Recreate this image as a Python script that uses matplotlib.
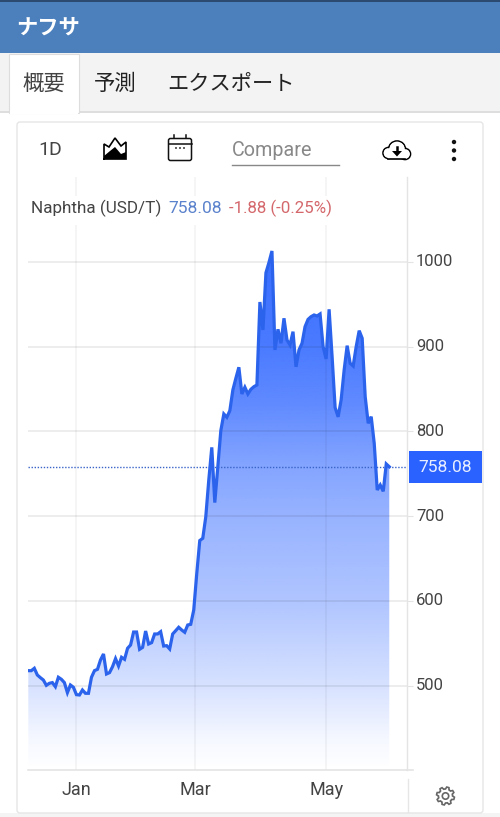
from __future__ import annotations

import matplotlib

matplotlib.use("Agg")
import matplotlib.pyplot as plt
import numpy as np
from matplotlib.colors import to_rgb
from matplotlib.patches import Circle, FancyBboxPatch, Polygon, Rectangle
from matplotlib.transforms import ScaledTranslation

plt.rcParams["font.family"] = ["Roboto", "Noto Sans CJK JP", "DejaVu Sans"]

W, H = 500, 817
JP = ["Noto Sans CJK JP", "DejaVu Sans"]
BLUE = "#2962ff"

PRICES = [
    517.5, 517.5, 520.3, 512.4, 509.3, 506.5, 500.2, 502.6, 503.4, 498.6,
    509.7, 507.3, 503.4, 491.6, 500.6, 497.9, 489.2, 488.8, 494.7, 490.8,
    490.8, 509.7, 517.5, 519.1, 530.1, 537.2, 513.6, 515.2, 522.2, 531.7,
    523.0, 533.3, 530.9, 543.9, 547.8, 563.1, 563.1, 542.7, 545.0, 564.3,
    549.0, 550.6, 560.8, 560.8, 563.5, 546.6, 547.0, 543.1, 560.8, 564.7,
    568.7, 565.5, 562.8, 571.4, 572.2, 589.1, 632.0, 671.0, 673.7, 699.0,
    742.5, 781.0, 715.8, 758.0, 800.7, 820.4, 816.5, 824.3, 848.7, 862.5,
    875.5, 844.0, 851.9, 844.0, 849.5, 852.6, 854.6, 952.5, 919.5, 987.0,
    999.0, 1012.7, 896.0, 920.3, 903.8, 933.3, 907.7, 901.8, 917.5, 876.0,
    896.0, 903.8, 923.4, 932.0, 935.2, 937.2, 936.0, 938.4, 900.0, 885.3,
    943.9, 888.0, 828.0, 817.0, 837.0, 872.3, 901.0, 880.2, 877.0, 899.8,
    918.7, 909.7, 840.8, 809.4, 817.2, 785.8, 730.7, 736.6, 729.1, 761.4,
    758.08,
]
Y_TICKS = [500, 600, 700, 800, 900, 1000]
X_TICK_POS = [16, 55.5, 99]
X_TICK_LABELS = ["Jan", "Mar", "May"]
TABS = ["概要", "予測", "エクスポート"]


def draw_chrome(bg) -> None:
    bg.add_patch(Rectangle((0, 0), W, 3, color="#2c4a70", lw=0))
    bg.add_patch(Rectangle((0, 2), W, 51, color="#4c80bc", lw=0))
    bg.add_patch(Rectangle((0, 53), W, 60, color="#f3f3f3", lw=0))
    bg.add_patch(Rectangle((0, 111), W, 2, color="#dedede", lw=0))
    bg.add_patch(Rectangle((9, 54), 70, 59, facecolor="white", edgecolor="#dddddd", lw=0.8))
    bg.add_patch(Rectangle((9.6, 110), 68.8, 4, color="white", lw=0))
    bg.add_patch(Rectangle((0, 813), W, 4, color="#f4f4f4", lw=0))
    bg.add_patch(FancyBboxPatch((17, 122), 466, 691, boxstyle="round,pad=0,rounding_size=3",
                                facecolor="white", edgecolor="#e6e6e6", lw=1))

    bg.text(16, 27, "ナフサ", color="white", fontsize=15.3, fontweight="bold", family=JP, va="center")
    bg.text(22.5, 84, TABS[0], color="#444444", fontsize=15.4, family=JP, va="center")
    bg.text(93.5, 84, TABS[1], color="#222222", fontsize=15.4, family=JP, va="center")
    bg.text(167.5, 84, TABS[2], color="#222222", fontsize=15.3, family=JP, va="center")


def draw_toolbar(fg) -> None:
    fg.text(38, 149.5, "1D", color="#444444", fontsize=14, va="center")

    # area icon
    fg.plot([104, 104, 109, 115, 121, 126, 126, 104], [159, 144, 147, 138, 146, 142, 159, 159],
            color="black", lw=1.2, solid_joinstyle="miter")
    fg.add_patch(Polygon([(104, 159), (104, 156), (110, 151), (115, 147), (121, 154), (126, 152), (126, 159)],
                         color="black", lw=0))

    # calendar icon
    fg.add_patch(FancyBboxPatch((168.5, 138.5), 23, 22, boxstyle="round,pad=0,rounding_size=2",
                                facecolor="none", edgecolor="#111111", lw=1.1))
    fg.plot([168.5, 191.5], [143.5, 143.5], color="#111111", lw=1.1)
    fg.plot([174, 174], [135, 138], color="#111111", lw=1.1)
    fg.plot([186, 186], [135, 138], color="#111111", lw=1.1)
    for cx in [176, 180, 184]:
        fg.add_patch(Circle((cx, 148), 0.9, color="#111111", lw=0))

    fg.text(232, 150.5, "Compare", color="#888888", fontsize=14.2, va="center")
    fg.plot([232, 339], [165, 165], color="#888888", lw=1)

    # cloud icon
    for cx, cy, r in [(388.5, 153, 5.5), (397, 149.5, 8.5), (405, 154, 5.5)]:
        fg.add_patch(Circle((cx, cy), r, facecolor="none", edgecolor="black", lw=1.2))
    for cx, cy, r in [(388.5, 153, 4.8), (397, 149.5, 7.8), (405, 154, 4.8)]:
        fg.add_patch(Circle((cx, cy), r, color="white", lw=0))
    fg.add_patch(Rectangle((388, 152), 17, 6.6, color="white", lw=0))
    fg.plot([388, 405], [159, 159], color="black", lw=1.2)
    fg.add_patch(Polygon([(392, 151), (402, 151), (397, 156.5)], color="black", lw=0))
    fg.plot([397, 397], [147, 152], color="black", lw=1.8)

    # menu dots
    for cy in [142, 150.5, 159]:
        fg.add_patch(Circle((454, cy), 2.2, color="#111111", lw=0))


def draw_gear(fg, cx: float = 445.5, cy: float = 796) -> None:
    angles = np.deg2rad(np.arange(0, 360, 7.5))
    r = np.array([9.0, 9.0, 9.0, 7.0, 7.0, 7.0] * 8)
    r = np.roll(r, 1)
    fg.add_patch(Polygon(np.column_stack([cx + r * np.cos(angles), cy + r * np.sin(angles)]),
                         facecolor="none", edgecolor="#666666", lw=1.2))
    fg.add_patch(Circle((cx, cy), 3.2, facecolor="none", edgecolor="#666666", lw=1.2))


def main() -> None:
    fig = plt.figure(figsize=(W / 100, H / 100), dpi=100, facecolor="white")

    bg = fig.add_axes([0, 0, 1, 1], zorder=0)
    bg.set_xlim(0, W)
    bg.set_ylim(H, 0)
    bg.axis("off")
    draw_chrome(bg)

    # chart area in pixels: x 28-407, y 177-770
    left, right, top, bottom = 28, 407, 177, 770
    ax = fig.add_axes([left / W, 1 - bottom / H, (right - left) / W, (bottom - top) / H], zorder=1)
    ax.patch.set_alpha(0)
    x = np.arange(len(PRICES))
    xlim = (-0.1, (right - left) / 3.008 - 0.1)
    ylim = (400.3, 1100)

    # gradient area below the line
    rgb = to_rgb(BLUE)
    stops = np.linspace(0, 1, 256)
    alpha = np.interp(stops, [0, 0.03, 0.19, 0.30, 0.42, 0.525, 0.68, 0.84, 0.94, 1],
                      [0.93, 0.92, 0.85, 0.75, 0.58, 0.48, 0.37, 0.19, 0.05, 0.0])
    grad = np.zeros((256, 1, 4))
    grad[..., :3] = rgb
    grad[..., 3] = alpha[:, None]
    area = ax.fill_between(x, ylim[0], PRICES, color="none", lw=0)
    img = ax.imshow(grad, extent=(xlim[0], xlim[1], ylim[0], 1020), origin="upper", aspect="auto", zorder=1)
    img.set_clip_path(area.get_paths()[0], transform=ax.transData)

    ax.plot(x, PRICES, color="#2b63ec", lw=2.3, zorder=3, solid_joinstyle="miter")
    ax.axhline(PRICES[-1], color="#3a64c8", lw=1, ls=(0, (1, 1.2)), zorder=2)

    ax.set_xlim(*xlim)
    ax.set_ylim(*ylim)
    ax.yaxis.tick_right()
    ax.set_yticks(Y_TICKS)
    ax.set_xticks(X_TICK_POS)
    ax.set_xticklabels(X_TICK_LABELS)
    ax.grid(True, axis="y", color="black", alpha=0.08, lw=1.3)
    ax.grid(True, axis="x", color="black", alpha=0.05, lw=1.1)
    ax.tick_params(axis="y", length=4.5, width=0.8, color="#e4e4e4", labelsize=12, labelcolor="#444444", pad=2)
    ax.tick_params(axis="x", length=0, labelsize=13, labelcolor="#444444", pad=7.8)
    up = ScaledTranslation(0, 1.5 / 100, fig.dpi_scale_trans)
    for label in ax.get_yticklabels():
        label.set_transform(label.get_transform() + up)
    for name in ["top", "left"]:
        ax.spines[name].set_visible(False)
    ax.spines["right"].set_color("#e4e4e4")
    ax.spines["bottom"].set_color("#e4e4e4")
    ax.spines["right"].set_linewidth(1)
    ax.spines["bottom"].set_linewidth(1.2)

    fg = fig.add_axes([0, 0, 1, 1], zorder=2)
    fg.set_xlim(0, W)
    fg.set_ylim(H, 0)
    fg.axis("off")
    fg.patch.set_alpha(0)

    # legend strip hides the grid behind it
    fg.add_patch(Rectangle((28, 196), 310, 29, color="white", lw=0))
    fg.text(31, 208.5, "Naphtha (USD/T)", color="#444444", fontsize=12.3, va="center")
    fg.text(168, 208.5, "758.08", color="#5b82cc", fontsize=12.5, va="center")
    fg.text(229, 208.5, "-1.88 (-0.25%)", color="#d4676b", fontsize=12.2, va="center")

    # last price label
    fg.add_patch(Rectangle((409, 451), 73, 32, color=BLUE, lw=0))
    fg.text(445.5, 467.5, "758.08", color="#e8eeff", fontsize=12.5, ha="center", va="center")

    fg.plot([407.5, 407.5], [779, 812], color="#e6e6e6", lw=1)
    fg.plot([407, 413], [770, 770], color="#e4e4e4", lw=1.2)
    draw_toolbar(fg)
    draw_gear(fg)

    fig.savefig("out.png", dpi=100)
    plt.close(fig)


if __name__ == "__main__":
    main()
